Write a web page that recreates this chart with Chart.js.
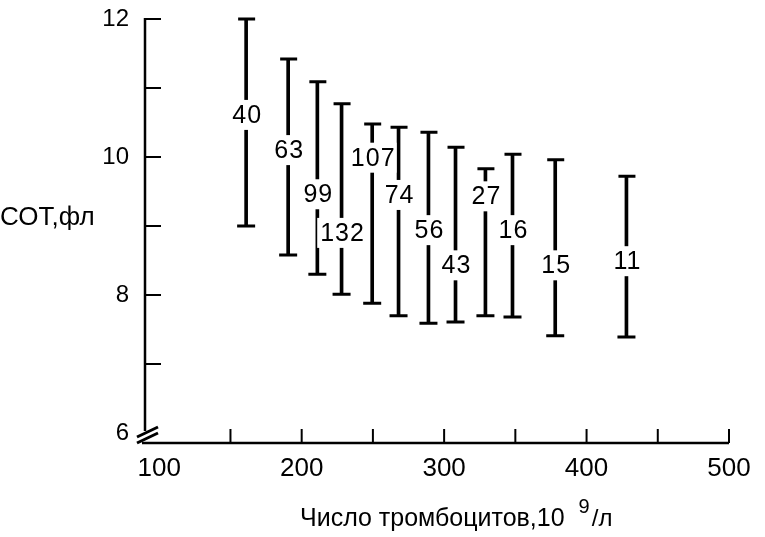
<!DOCTYPE html>
<html><head><meta charset="utf-8">
<script src="https://cdn.jsdelivr.net/npm/chart.js@4/dist/chart.umd.min.js"></script>
<style>html,body{margin:0;padding:0;background:#fff;}</style>
</head><body>
<canvas id="c" width="765" height="537"></canvas>
<script>
// Platelet count (10^9/l) at which each group is centred
const plateletCounts = [161, 190.5, 211, 228, 249.5, 268, 289, 308, 329, 348, 378, 428];
// MPV range (fl): upper and lower ends of each bar
const mpvHigh = [12.0, 11.42, 11.09, 10.77, 10.48, 10.43, 10.36, 10.14, 9.83, 10.04, 9.96, 9.72];
const mpvLow  = [9.0, 8.58, 8.30, 8.01, 7.88, 7.70, 7.59, 7.61, 7.70, 7.68, 7.41, 7.39];
// Number of patients in each group (printed on the bar)
const sampleSizes = ['40', '63', '99', '132', '107', '74', '56', '43', '27', '16', '15', '11'];
// MPV value at which each count label sits on its bar
const labelAt = [10.61, 10.10, 9.46, 8.90, 9.99, 9.45, 8.94, 8.43, 9.43, 8.94, 8.43, 8.49];
// Axis ticks
const xTickLabels = [100, 200, 300, 400, 500];
const xTickMarks = [150, 200, 250, 300, 350, 400, 450, 500];
const yTickLabels = [6, 8, 10, 12];
const yTickMarks = [7, 8, 9, 10, 11, 12];
const xTitle = 'Число тромбоцитов,10';
const xTitleSup = '9';
const xTitleEnd = '/л';
const yTitle = 'СОТ,фл';

const FONT = '"Liberation Sans", Arial, sans-serif';

const axesPlugin = {
  id: 'axesPlugin',
  beforeDatasetsDraw(chart) {
    const ctx = chart.ctx, a = chart.chartArea;
    const xs = chart.scales.x, ys = chart.scales.y;
    ctx.save();
    ctx.strokeStyle = '#000';
    ctx.lineCap = 'butt';
    // y axis
    ctx.lineWidth = 2.5;
    ctx.beginPath();
    ctx.moveTo(a.left, a.top - 1);
    ctx.lineTo(a.left, a.bottom - 12);
    ctx.stroke();
    // x axis
    ctx.beginPath();
    ctx.moveTo(a.left - 3, a.bottom);
    ctx.lineTo(a.right, a.bottom);
    ctx.stroke();
    // y tick marks (inward)
    ctx.lineWidth = 2;
    yTickMarks.forEach(v => {
      const py = ys.getPixelForValue(v);
      ctx.beginPath();
      ctx.moveTo(a.left, py);
      ctx.lineTo(a.left + 16, py);
      ctx.stroke();
    });
    // x tick marks (inward)
    xTickMarks.forEach(v => {
      const px = xs.getPixelForValue(v);
      ctx.beginPath();
      ctx.moveTo(px, a.bottom);
      ctx.lineTo(px, a.bottom - 14);
      ctx.stroke();
    });
    // axis break mark near origin
    const oy = ys.getPixelForValue(6);
    ctx.lineWidth = 3;
    ctx.beginPath();
    ctx.moveTo(a.left - 8, oy + 4);
    ctx.lineTo(a.left + 13, oy - 6);
    ctx.moveTo(a.left - 8, oy + 10);
    ctx.lineTo(a.left + 13, oy);
    ctx.stroke();
    // axis titles
    ctx.fillStyle = '#000';
    ctx.textBaseline = 'alphabetic';
    ctx.textAlign = 'left';
    ctx.font = '25px ' + FONT;
    const tx = 300, ty = 526;
    ctx.fillText(xTitle, tx, ty);
    const w1 = ctx.measureText(xTitle).width;
    ctx.font = '20px ' + FONT;
    ctx.fillText(xTitleSup, tx + w1 + 14, ty - 13);
    const w2 = ctx.measureText(xTitleSup).width;
    ctx.font = '24px ' + FONT;
    ctx.fillText(xTitleEnd, tx + w1 + 14 + w2 + 2, ty);
    ctx.font = '26px ' + FONT;
    ctx.textBaseline = 'middle';
    ctx.fillText(yTitle, 0, 218);
    ctx.restore();
  },
  afterDatasetsDraw(chart) {
    const ctx = chart.ctx;
    const xs = chart.scales.x, ys = chart.scales.y;
    ctx.save();
    ctx.strokeStyle = '#000';
    ctx.lineWidth = 3;
    plateletCounts.forEach((v, i) => {
      const px = xs.getPixelForValue(v);
      const yt = ys.getPixelForValue(mpvHigh[i]);
      const yb = ys.getPixelForValue(mpvLow[i]);
      ctx.beginPath();
      ctx.moveTo(px - 8, yt); ctx.lineTo(px + 9, yt);
      ctx.moveTo(px - 9, yb); ctx.lineTo(px + 9, yb);
      ctx.stroke();
    });
    ctx.font = '25px ' + FONT;
    ctx.letterSpacing = '1px';
    ctx.textAlign = 'center';
    ctx.textBaseline = 'middle';
    sampleSizes.forEach((s, i) => {
      const px = xs.getPixelForValue(plateletCounts[i]);
      const py = ys.getPixelForValue(labelAt[i]);
      const w = ctx.measureText(s).width;
      ctx.fillStyle = '#fff';
      ctx.fillRect(px - w / 2 - 2, py - 15, w + 4, 30);
      ctx.fillStyle = '#000';
      ctx.fillText(s, px + 1, py + 1);
    });
    ctx.restore();
  }
};

new Chart(document.getElementById('c'), {
  type: 'bar',
  data: {
    datasets: [{
      data: plateletCounts.map((x, i) => ({ x: x, y: [mpvLow[i], mpvHigh[i]] })),
      backgroundColor: '#000',
      borderWidth: 0,
      barThickness: 3
    }]
  },
  options: {
    responsive: false,
    animation: false,
    devicePixelRatio: 1,
    layout: { padding: { top: 19, right: 36, left: 0, bottom: 0 } },
    plugins: { legend: { display: false }, tooltip: { enabled: false }, title: { display: false } },
    scales: {
      x: {
        type: 'linear',
        offset: false,
        min: 90, max: 500,
        grid: { display: false, drawTicks: false, offset: false },
        border: { display: false },
        afterBuildTicks: s => { s.ticks = xTickLabels.map(v => ({ value: v })); },
        afterFit: s => { s.height = 94; s.paddingLeft = 0; s.paddingRight = 0; },
        ticks: { color: '#000', font: { family: FONT, size: 26 }, padding: 10, maxRotation: 0, autoSkip: false }
      },
      y: {
        type: 'linear',
        min: 5.855, max: 12,
        grid: { display: false, drawTicks: false },
        border: { display: false },
        afterBuildTicks: s => { s.ticks = yTickLabels.map(v => ({ value: v })); },
        afterFit: s => { s.width = 145; s.paddingTop = 0; s.paddingBottom = 0; },
        ticks: { color: '#000', font: { family: FONT, size: 24 }, padding: 16 }
      }
    }
  },
  plugins: [axesPlugin]
});
</script>
</body></html>
